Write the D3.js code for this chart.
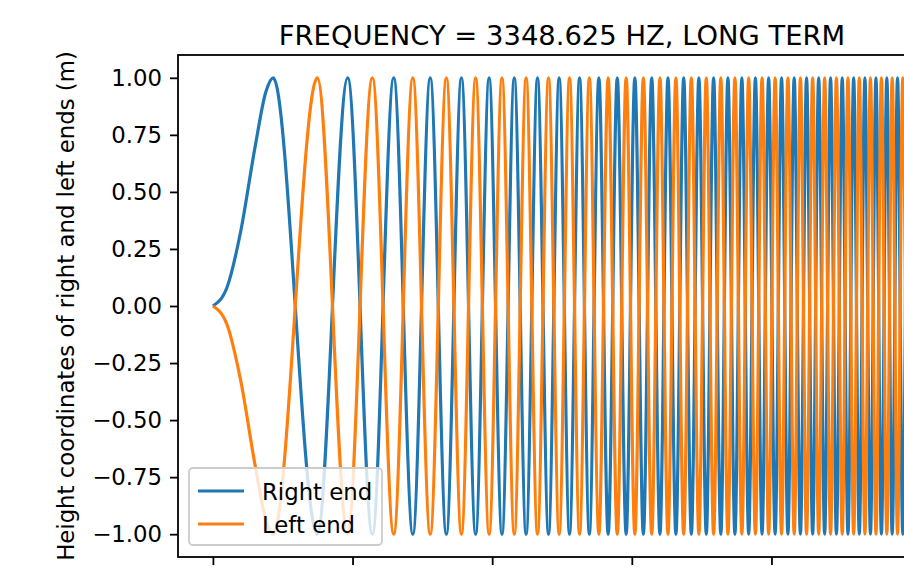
<!DOCTYPE html>
<html>
<head>
<meta charset="utf-8">
<script src="https://cdn.jsdelivr.net/npm/d3@7"></script>
<style>
  body { margin: 0; background: #fff; }
  svg { display: block; font-family: "DejaVu Sans", sans-serif; }
</style>
</head>
<body>
<script>
// data: times (x units) of the crests and troughs
const rightStart = [[0, 0], [0.1, 0.08], [0.2, 0.33], [0.3, 0.69], [0.38, 0.94]];
const rightPeakT = [0.4317, 0.9652, 1.2950, 1.5564, 1.7798, 1.9781, 2.1583, 2.3246, 2.4797, 2.6257,
  2.7640, 2.8957, 3.0217, 3.1426, 3.2590, 3.3715, 3.4802, 3.5857, 3.6882, 3.7879, 3.8850, 3.9798,
  4.0723, 4.1628, 4.2514, 4.3382, 4.4233, 4.5067, 4.5887, 4.6692, 4.7483, 4.8262, 4.9028, 4.9782];
const rightTroughT = [0.7477, 1.1421, 1.4317, 1.6719, 1.8816, 2.0702, 2.2430, 2.4034, 2.5538, 2.6958,
  2.8306, 2.9594, 3.0827, 3.2013, 3.3157, 3.4263, 3.5333, 3.6373, 3.7383, 3.8368, 3.9327, 4.0263,
  4.1178, 4.2074, 4.2950, 4.3809, 4.4652, 4.5479, 4.6291, 4.7090, 4.7874, 4.8646, 4.9406];
const rightEnd = [5, -0.26];

// left end is the mirror image
const leftStart = [[0, 0], [0.1, -0.08], [0.2, -0.33], [0.3, -0.69], [0.38, -0.94]];
const leftPeakT = rightTroughT;
const leftTroughT = rightPeakT;
const leftEnd = [5, 0.26];

const yTicks = [-1, -0.75, -0.5, -0.25, 0, 0.25, 0.5, 0.75, 1];
const xTicks = [0, 1, 2, 3, 4, 5];
const seriesNames = ["Right end", "Left end"];
const colors = ["#1f77b4", "#ff7f0e"];
const title = "FREQUENCY = 3348.625 HZ, LONG TERM";
const yLabel = "Height coordinates of right and left ends (m)";

function buildSeries(start, peaks, troughs, end) {
  return start
    .concat(peaks.map(t => [t, 1]), troughs.map(t => [t, -1]), [end])
    .sort((a, b) => a[0] - b[0]);
}
const series = [
  buildSeries(rightStart, rightPeakT, rightTroughT, rightEnd),
  buildSeries(leftStart, leftPeakT, leftTroughT, leftEnd)
];

const W = 904, H = 567;
const mLeft = 178, mRight = 946, mTop = 55, mBottom = 557;

const svg = d3.select("body").append("svg")
  .attr("width", W).attr("height", H);

const x = d3.scaleLinear().domain([-0.25, 5.25]).range([mLeft, mRight]);
const y = d3.scaleLinear().domain([-1.1, 1.1]).range([mBottom, mTop]);

svg.append("clipPath").attr("id", "clip")
  .append("rect").attr("x", mLeft).attr("y", mTop)
  .attr("width", mRight - mLeft).attr("height", mBottom - mTop);

const line = d3.line()
  .x(d => x(d[0]))
  .y(d => y(d[1]))
  .curve(d3.curveMonotoneX);

svg.append("g").attr("clip-path", "url(#clip)")
  .selectAll("path")
  .data(series)
  .enter()
  .append("path")
  .attr("d", line)
  .attr("fill", "none")
  .attr("stroke", (d, i) => colors[i])
  .attr("stroke-width", 3.2)
  .attr("stroke-linejoin", "round");

// axes
const yAxis = svg.append("g")
  .attr("transform", "translate(" + mLeft + ",0)")
  .call(d3.axisLeft(y).tickValues(yTicks).tickFormat(d3.format(".2f")).tickSize(8).tickPadding(8));
const xAxis = svg.append("g")
  .attr("transform", "translate(0," + mBottom + ")")
  .call(d3.axisBottom(x).tickValues(xTicks).tickFormat("").tickSize(8));

[yAxis, xAxis].forEach(g => {
  g.select(".domain").remove();
  g.selectAll("line").attr("stroke", "#000").attr("stroke-width", 1.8);
  g.selectAll("text").attr("fill", "#000").style("font-size", "22.8px")
    .style("font-family", "DejaVu Sans, sans-serif");
});

svg.append("rect")
  .attr("x", mLeft).attr("y", mTop)
  .attr("width", mRight - mLeft).attr("height", mBottom - mTop)
  .attr("fill", "none").attr("stroke", "#000").attr("stroke-width", 1.8);

// title and label
svg.append("text")
  .attr("x", (mLeft + mRight) / 2).attr("y", 45)
  .attr("text-anchor", "middle")
  .style("font-size", "27.4px")
  .text(title);

svg.append("text")
  .attr("transform", "translate(74," + (mTop + mBottom) / 2 + ") rotate(-90)")
  .attr("text-anchor", "middle")
  .style("font-size", "22.8px")
  .text(yLabel);

// legend
const legend = svg.append("g").attr("transform", "translate(189,468)");
legend.append("rect")
  .attr("width", 193).attr("height", 77).attr("rx", 4)
  .attr("fill", "#fff").attr("fill-opacity", 0.8)
  .attr("stroke", "#ccc").attr("stroke-width", 1.8);
const items = legend.selectAll("g.item")
  .data(seriesNames)
  .enter()
  .append("g")
  .attr("class", "item")
  .attr("transform", (d, i) => "translate(0," + (23 + i * 33) + ")");
items.append("line")
  .attr("x1", 9).attr("x2", 55)
  .attr("stroke", (d, i) => colors[i]).attr("stroke-width", 3.2);
items.append("text")
  .attr("x", 73).attr("y", 8.5)
  .style("font-size", "22.8px")
  .text(d => d);
</script>
</body>
</html>
